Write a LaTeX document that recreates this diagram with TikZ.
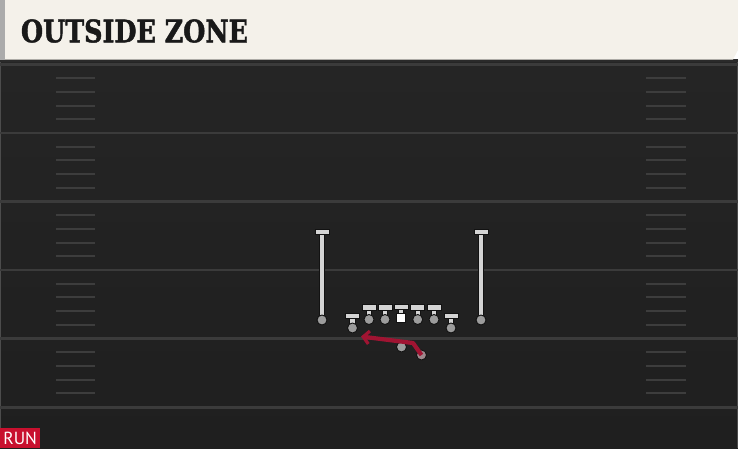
\documentclass[tikz,border=0pt]{standalone}
\usepackage{fontspec}
\setmainfont{DejaVu Serif}
\newfontfamily\titlefont[BoldFont={DejaVu Serif Bold}, BoldFeatures={FakeBold=1.5}]{DejaVu Serif}
\newfontfamily\runfont{PT Sans}
\usetikzlibrary{arrows.meta}
\definecolor{fieldtop}{HTML}{252525}
\definecolor{fieldbot}{HTML}{1F1F1F}
\definecolor{yardline}{HTML}{3B3B3B}
\definecolor{hashc}{HTML}{3D3D3D}
\definecolor{cream}{HTML}{F4F1EA}
\definecolor{stripe}{HTML}{ABABAB}
\definecolor{routered}{HTML}{A01432}
\definecolor{runred}{HTML}{C8102E}
\definecolor{tgray}{HTML}{D4D4D4}
\definecolor{dotgray}{HTML}{9C9C9C}
\definecolor{outl}{HTML}{121212}
\tikzset{
  yard/.style={draw=yardline, line width=2.2pt},
  hashmark/.style={draw=hashc, line width=2pt},
  stem/.style={draw=tgray, line width=4.2pt, preaction={draw=outl, line width=6.2pt}},
  tbar/.style={rectangle, minimum width=14pt, minimum height=5.5pt, inner sep=0pt, fill=tgray, draw=outl, line width=1pt},
  pdot/.style={circle, minimum size=10pt, inner sep=0pt, fill=dotgray, draw=outl, line width=0.9pt},
  csq/.style={rectangle, minimum size=9.5pt, inner sep=0pt, fill=white, draw=outl, line width=0.9pt},
  route/.style={draw=routered, line width=4.2pt, line join=round, -{Straight Barb[length=6pt,width=13pt,line width=3.2pt]}},
}
\newcommand\tplayer[5][pdot]{%
  \draw[stem] (#3,#4) -- (#3,#5);
  \node[tbar] at (#3,#5) {};
  \node[#1] (#2) at (#3,#4) {};
}
\begin{document}
\begin{tikzpicture}[x=1pt,y=-1pt]
\useasboundingbox (0,0) rectangle (738,448);
% field
\shade[top color=fieldtop, bottom color=fieldbot] (0,59) rectangle (738,448);
\fill[outl!90] (0,59) rectangle (738,62);
\draw[draw=black!70, line width=0.8pt] (0.5,62) -- (0.5,448);
\draw[draw=black!70, line width=0.8pt] (737.5,62) -- (737.5,448);
% yard lines
\foreach \y in {64.5,133,201.5,270,338.5,407.5} {
  \draw[yard] (0,\y) -- (738,\y);
}
% hash marks
\foreach \y in {64.5,133,201.5,270,338.5} {
  \foreach \k in {1,2,3,4} {
    \draw[hashmark] (56,\y+13.7*\k) -- (95,\y+13.7*\k);
    \draw[hashmark] (646,\y+13.7*\k) -- (686,\y+13.7*\k);
  }
}
% header
\fill[stripe] (0,0) rectangle (5,59.5);
\fill[cream] (5,0) -- (738,0) -- (738,50) -- (733,59.5) -- (5,59.5) -- cycle;
\node[inner sep=0pt, text=black!90] (title) at (134.5,31)
  {\scalebox{0.82}[1]{\titlefont\fontsize{31}{32}\selectfont\bfseries OUTSIDE ZONE}};
% RUN label
\node[fill=runred, text=white, inner sep=0pt, minimum width=40pt, minimum height=20pt, anchor=north west] (runlabel) at (0,428)
  {\runfont\fontsize{17.5}{17.5}\selectfont RUN};
% receivers
\tplayer{wrl}{322}{320}{232}
\tplayer{wrr}{481}{320}{232}
% line
\tplayer{lt}{352.5}{328}{316}
\tplayer{lg}{369}{319.5}{307.5}
\tplayer{lc}{385}{319.5}{307.5}
\tplayer[csq]{ctr}{401}{318}{307}
\tplayer{rg}{417.7}{319.5}{307.5}
\tplayer{rc}{434}{319.5}{307.5}
\tplayer{rt}{451}{328}{316}
% backs
\node[pdot] (qb) at (401.5,347) {};
\node[pdot, fill=dotgray!85!routered] (rb) at (421.5,355) {};
\coordinate (bend) at (413,343);
\coordinate (tip) at (361,336.5);
\draw[route] (rb.center) -- (bend) -- (tip);
\end{tikzpicture}
\end{document}
